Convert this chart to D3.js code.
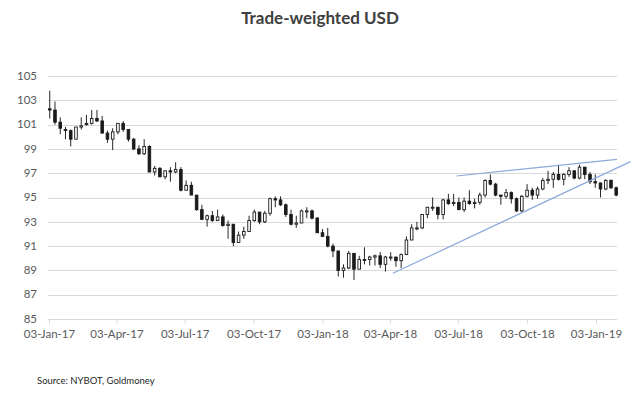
<!DOCTYPE html>
<html>
<head>
<meta charset="utf-8">
<script src="https://cdn.jsdelivr.net/npm/d3@7"></script>
<style>
  html, body { margin: 0; padding: 0; background: #fff; }
  svg { display: block; }
</style>
</head>
<body>
<svg id="chart" width="640" height="396"></svg>
<script>
// ---------------- DATA ----------------
const title = "Trade-weighted USD";
const source = "Source: NYBOT, Goldmoney";
const firstWeek = "2017-01-02";   // Monday of first weekly bar
// weekly OHLC of the index
const open = [102.3,102.2,101.2,100.6,100.5,99.8,100.8,101.0,101.1,101.5,101.3,100.3,99.8,100.4,101.1,100.6,99.8,99.0,98.6,99.2,97.1,97.4,96.7,97.2,97.1,97.3,95.6,96.0,95.2,94.0,93.2,93.5,93.1,93.4,92.7,92.8,91.3,91.9,92.2,93.1,93.8,93.0,93.7,94.9,94.8,94.4,93.6,92.8,92.9,93.9,93.9,93.3,
  92.1,91.8,91.0,90.6,89.0,89.2,90.4,89.1,89.9,89.9,90.1,90.2,89.5,90.1,90.1,89.8,90.3,91.5,92.5,92.5,93.6,94.2,94.2,93.6,94.8,94.5,94.6,94.0,94.7,94.5,94.6,95.2,96.4,96.1,95.2,95.1,95.4,94.9,93.9,95.1,95.6,95.2,95.7,96.4,96.5,96.9,96.5,96.9,97.2,96.6,97.5,96.9,
  96.3,96.2,95.7,96.4,95.8];
const high = [103.8,102.9,101.6,100.8,100.6,100.8,101.6,101.8,102.2,102.2,101.7,100.5,100.7,101.1,101.3,100.6,99.9,99.3,99.8,99.3,97.6,97.5,97.2,97.5,97.9,97.5,96.4,96.3,95.2,94.4,93.6,93.9,94.0,93.6,93.1,92.8,92.2,92.6,93.5,94.0,93.8,93.9,95.0,95.1,95.1,94.5,94.0,93.5,94.0,94.2,94.0,93.4,
  92.4,92.5,91.2,90.6,89.5,90.6,90.4,90.2,90.9,90.2,90.3,90.5,90.2,90.5,90.1,90.4,91.8,92.8,93.0,93.6,94.2,95.0,94.2,94.9,95.3,95.3,95.0,95.0,95.6,94.9,95.4,96.5,96.9,96.2,95.2,95.7,95.5,95.0,95.2,96.1,95.8,95.9,96.6,97.2,97.1,97.7,97.0,97.5,97.2,97.7,97.5,97.1,
  96.9,96.2,96.5,96.5,95.9];
const low = [101.5,101.0,100.2,99.8,99.2,99.8,100.6,100.9,101.0,101.2,100.3,99.5,98.9,100.2,100.4,99.6,98.9,98.5,98.5,97.1,96.8,96.7,96.5,96.3,97.0,95.5,95.6,95.2,93.9,93.2,92.6,93.0,93.1,92.6,91.6,91.0,91.3,91.6,92.2,93.0,92.8,92.9,93.5,94.2,94.3,93.4,92.7,92.5,92.9,93.3,93.2,92.1,
  91.8,90.9,90.1,88.5,88.4,89.1,88.2,89.1,89.5,89.4,89.4,89.2,88.9,89.8,89.3,89.2,90.3,91.5,92.3,92.4,93.3,93.9,93.2,93.2,94.4,94.3,94.0,93.8,94.4,94.1,94.4,95.0,96.0,95.1,94.4,94.9,94.5,93.8,93.8,95.0,94.8,94.9,95.6,96.1,95.8,96.4,96.0,96.7,96.5,96.5,96.5,96.1,
  95.8,95.0,95.6,95.7,95.1];
const close = [102.2,101.2,100.7,100.6,99.8,100.8,100.9,101.1,101.5,101.3,100.3,99.8,100.4,101.1,100.6,99.8,99.0,98.6,99.2,97.1,97.4,96.7,97.2,97.1,97.3,95.6,96.0,95.2,94.0,93.2,93.5,93.1,93.4,92.7,92.8,91.3,91.9,92.2,93.1,93.8,93.0,93.7,94.9,94.8,94.4,93.6,92.8,92.9,93.9,93.9,93.3,92.1,
  91.8,91.0,90.6,89.0,89.2,90.4,89.1,89.9,89.9,90.1,90.2,89.5,90.1,90.1,89.8,90.3,91.5,92.5,92.5,93.6,94.2,94.2,93.6,94.8,94.5,94.6,94.0,94.7,94.5,94.6,95.2,96.4,96.1,95.2,95.1,95.4,94.9,93.9,95.1,95.6,95.2,95.7,96.4,96.5,96.9,96.5,96.9,97.2,96.6,97.5,96.9,96.3,
  96.2,95.7,96.4,95.8,95.2];
const tickDates = ["2017-01-03","2017-04-03","2017-07-03","2017-10-03","2018-01-03","2018-04-03","2018-07-03","2018-10-03","2019-01-03"];
const yTicks = [85,87,89,91,93,95,97,99,101,103,105];
// hand-drawn trend lines (start / end)
const lowerTrendDates = ["2018-04-07","2019-02-18"];
const lowerTrendValues = [88.76, 97.95];
const upperTrendDates = ["2018-07-01","2019-01-31"];
const upperTrendValues = [96.77, 98.14];

// ---------------- CHART ----------------
const parse = d3.utcParse("%Y-%m-%d");
const fmt = d3.utcFormat("%d-%b-%y");
const svg = d3.select("#chart");
const font = "Lato, 'Open Sans', sans-serif";

const x = d3.scaleUtc()
  .domain([parse("2017-01-03"), parse("2019-01-03")])
  .range([49, 596]);
const y = d3.scaleLinear().domain([85, 105]).range([319, 76]);
const xLeft = 48, xRight = 617;

const weeks = d3.utcMonday.range(parse(firstWeek), d3.utcDay.offset(parse(firstWeek), 7 * open.length));
const data = weeks.map((w, i) => ({
  date: d3.utcDay.offset(w, 2), o: open[i], h: high[i], l: low[i], c: close[i]
}));

// title
svg.append("text").attr("x", 320).attr("y", 24).attr("text-anchor", "middle")
  .attr("font-family", font).attr("font-weight", "bold").attr("font-size", 17)
  .attr("fill", "#404040").text(title);

// gridlines
svg.append("g").selectAll("line").data(yTicks.slice(1)).join("line")
  .attr("x1", xLeft).attr("x2", xRight)
  .attr("y1", d => Math.round(y(d)) + 0.5).attr("y2", d => Math.round(y(d)) + 0.5)
  .attr("stroke", "#d9d9d9").attr("stroke-width", 1);

// y labels
svg.append("g").selectAll("text").data(yTicks).join("text")
  .attr("x", 37).attr("y", d => y(d)).attr("dy", "0.33em")
  .attr("text-anchor", "end").attr("font-family", font).attr("font-size", 11.5)
  .attr("fill", "#595959").text(d => d);

// x axis
const xAxis = d3.axisBottom(x)
  .tickValues(tickDates.map(parse))
  .tickFormat(fmt).tickSize(4).tickSizeOuter(0).tickPadding(6);
const gx = svg.append("g").attr("transform", `translate(0,${Math.round(y(85)) + 0.5})`).call(xAxis);
gx.select(".domain").remove();
gx.append("line").attr("x1", xLeft).attr("x2", xRight).attr("stroke", "#d9d9d9");
gx.selectAll(".tick line").attr("stroke", "#d9d9d9");
gx.selectAll(".tick text").attr("font-family", font).attr("font-size", 11.5).attr("fill", "#595959");

// candles
const g = svg.append("g");
g.selectAll("line.hl").data(data).join("line").attr("class", "hl")
  .attr("x1", d => x(d.date)).attr("x2", d => x(d.date))
  .attr("y1", d => y(d.h)).attr("y2", d => y(d.l))
  .attr("stroke", "#262626").attr("stroke-width", 1);
const bw = 2.6;
g.selectAll("rect").data(data).join("rect")
  .attr("x", d => x(d.date) - bw / 2)
  .attr("y", d => y(Math.max(d.o, d.c)))
  .attr("width", bw)
  .attr("height", d => Math.max(1, Math.abs(y(d.o) - y(d.c))))
  .attr("fill", d => d.c >= d.o ? "#fff" : "#1a1a1a")
  .attr("stroke", "#1a1a1a").attr("stroke-width", 0.9);

// trend lines
const trend = (ds, vs) => svg.append("line")
  .attr("x1", x(parse(ds[0]))).attr("y1", y(vs[0]))
  .attr("x2", x(parse(ds[1]))).attr("y2", y(vs[1]))
  .attr("stroke", "#8eaadb").attr("stroke-width", 1.2);
trend(lowerTrendDates, lowerTrendValues);
trend(upperTrendDates, upperTrendValues);

// source
svg.append("text").attr("x", 37).attr("y", 384)
  .attr("font-family", font).attr("font-size", 9.5).attr("fill", "#262626").text(source);
</script>
</body>
</html>
